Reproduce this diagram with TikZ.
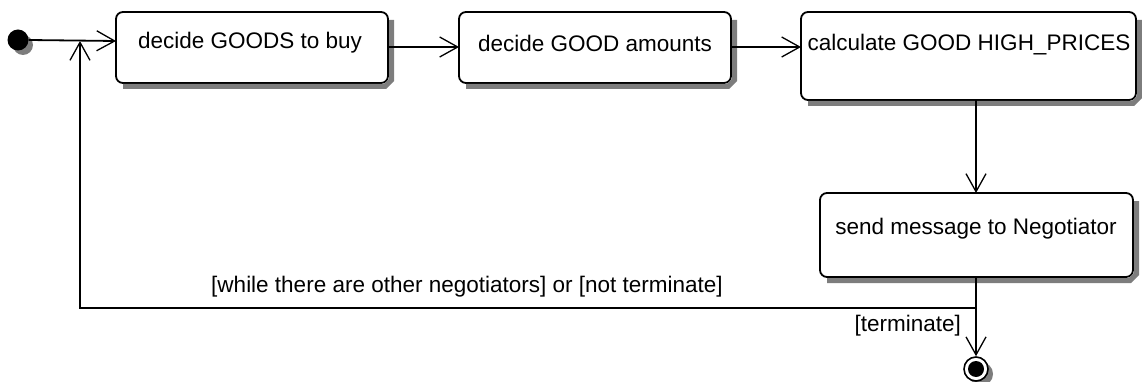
\documentclass[tikz,border=0pt]{standalone}
\usepackage{fontspec}
\setmainfont{Liberation Sans}
\usetikzlibrary{arrows.meta}
\definecolor{shadowgray}{RGB}{125,125,125}
\begin{document}
\begin{tikzpicture}[x=1pt,y=-1pt,
  every node/.style={font=\fontsize{22.5}{26}\selectfont},
  act/.style={draw=black, line width=1.8pt, fill=white, rounded corners=7pt},
  boxshadow/.style={draw=shadowgray, line width=5pt, line cap=butt},
  txt/.style={inner sep=0pt, anchor=center},
  flow/.style={draw=black, line width=1.8pt,
    -{Straight Barb[length=18pt, width=20pt, line width=1.3pt]}}]
\useasboundingbox (0,0) rectangle (1142,382);

% action boxes
\path[act] (116,12) rectangle (388,83);
\path[act] (459,12) rectangle (731,83);
\path[act] (801,12) rectangle (1136,100);
\path[act] (820,193) rectangle (1133,277);

% shadows along the right and lower edges of the boxes
\draw[boxshadow] (391.5,20) -- (391.5,80) -- (385,86.5) -- (123,86.5);
\draw[boxshadow] (734.5,20) -- (734.5,80) -- (728,86.5) -- (466,86.5);
\draw[boxshadow] (1139.5,20) -- (1139.5,97) -- (1133,103.5) -- (808,103.5);
\draw[boxshadow] (1136.5,201) -- (1136.5,274) -- (1130,280.5) -- (827,280.5);

\coordinate (b1w) at (116,41);
\coordinate (b1e) at (388,47);
\coordinate (b2w) at (459,47);
\coordinate (b2e) at (731,47);
\coordinate (b3w) at (801,47);
\coordinate (b3s) at (976,100);
\coordinate (b4n) at (976,193);
\coordinate (b4s) at (976,277);

\node[txt] (t1) at (250,43) {decide GOODS to buy};
\node[txt] (t2) at (595,43) {decide GOOD amounts};
\node[txt] (t3) at (969,45) {calculate GOOD HIGH\_PRICES};
\node[txt] (t4) at (976,229) {send message to Negotiator};

% initial and final states
\fill[shadowgray] (23,45) circle (10pt);
\node[circle, fill=black, inner sep=0pt, minimum size=21pt] (init) at (18,40) {};
\fill[shadowgray] (981,374) circle (12pt);
\node[circle, draw=black, line width=1.6pt, fill=white, inner sep=0pt, minimum size=24pt] (fin) at (976,369) {};
\fill[black] (fin.center) circle (8pt);

% junction points of the loop
\coordinate (j1) at (976,308);
\coordinate (j2) at (80,308);
\coordinate (j3) at (80,41);

% transitions
\draw[flow] (init.east) -- (b1w);
\draw[flow] (b1e) -- (b2w);
\draw[flow] (b2e) -- (b3w);
\draw[flow] (b3s) -- (b4n);
\draw[flow] (b4s) -- (fin.north);
\draw[flow] (j1) -- (j2) -- (j3);

% guards
\node[txt] (g1) at (467,287) {[while there are other negotiators] or [not terminate]};
\node[txt, anchor=east] (g2) at (961,326) {[terminate]};
\end{tikzpicture}
\end{document}
